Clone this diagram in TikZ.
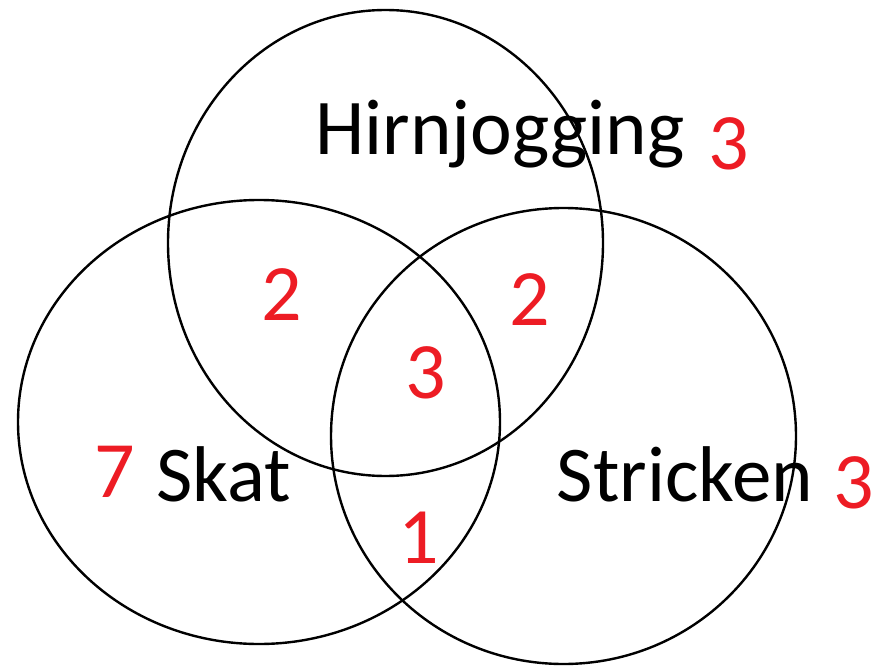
\documentclass[tikz,border=0pt]{standalone}
\usepackage{fontspec}
\setmainfont{Carlito}
\definecolor{numred}{RGB}{237,28,36}
\tikzset{
  ring/.style={draw=black, line width=2.4pt},
  lbl/.style={anchor=base, inner sep=0pt, text=black, font=\fontsize{79}{90}\selectfont},
  num/.style={anchor=base, inner sep=0pt, text=numred, font=\fontsize{80}{90}\selectfont}
}
\begin{document}
\begin{tikzpicture}[x=1pt, y=-1pt]
\useasboundingbox (0,0) rectangle (878,666);
% circles
\draw[ring] (385.5,243) ellipse [x radius=217.5pt, y radius=233pt];
\draw[ring] (259,422) ellipse [x radius=241pt, y radius=222pt];
\draw[ring] (563.5,436) ellipse [x radius=232.5pt, y radius=228pt];
% labels
\node[lbl] (hirn) at (500,154) {Hirnjogging};
\node[num] (hirnn) at (729,169) {3};
\node[lbl] (skat) at (223.5,501) {Skat};
\node[num] (skatn) at (115,497) {7};
\node[lbl] (strick) at (685,501) {Stricken};
\node[num] (strickn) at (853.5,508) {3};
\node[num] (hs) at (281.5,320) {2};
\node[num] (hst) at (530,325) {2};
\node[num] (all) at (426,398) {3};
\node[num] (sst) at (418.5,563) {1};
\end{tikzpicture}
\end{document}
